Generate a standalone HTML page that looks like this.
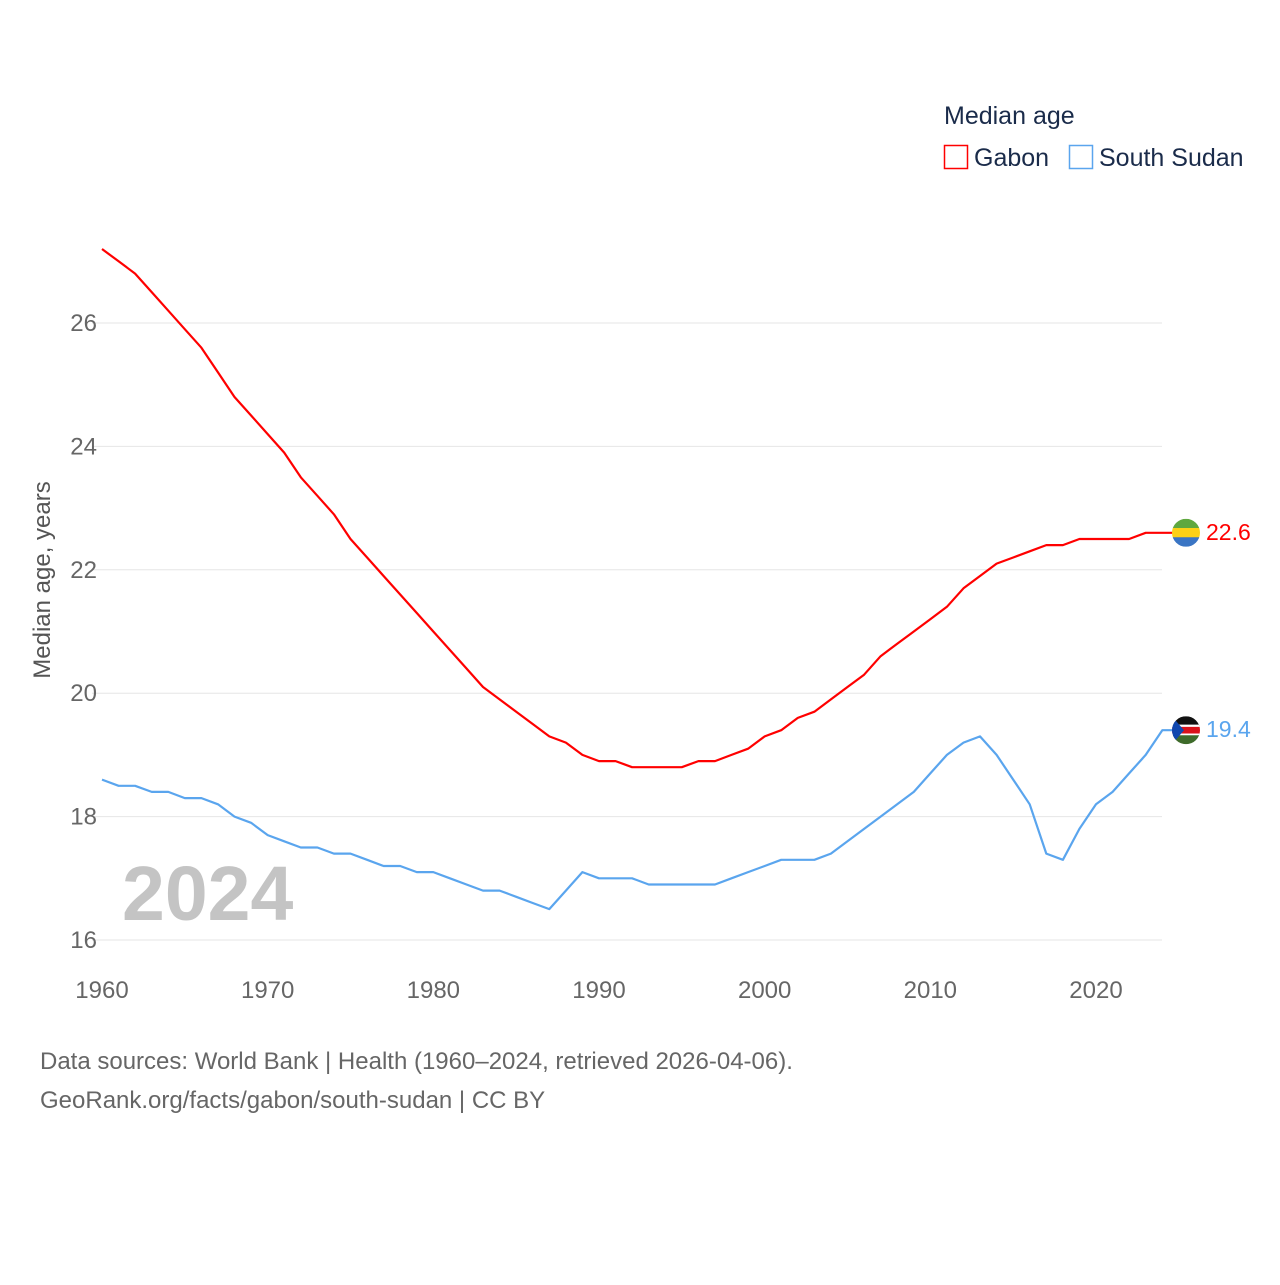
<!DOCTYPE html>
<html><head><meta charset="utf-8"><style>
body{margin:0;background:#fff;font-family:"Liberation Sans",sans-serif}
</style></head><body>
<svg width="1280" height="1280" xmlns="http://www.w3.org/2000/svg" font-family="Liberation Sans, sans-serif">
<g id="grid"></g>
<g id="yt" fill="#666" font-size="24" text-anchor="end"></g>
<g id="xt" fill="#666" font-size="24" text-anchor="middle"></g>
<text transform="translate(50,580) rotate(-90)" text-anchor="middle" font-size="24" fill="#555">Median age, years</text>
<text x="122" y="920" font-size="77" font-weight="bold" fill="#c4c4c4">2024</text>
<g id="lines"></g>
<g>
<text x="944" y="124" font-size="25" fill="#1a2b4a">Median age</text>
<rect x="944.5" y="145.5" width="23" height="23" fill="none" stroke="#ff0000" stroke-width="1.5"/>
<text x="974" y="166" font-size="25" fill="#1a2b4a">Gabon</text>
<rect x="1069.5" y="145.5" width="23" height="23" fill="none" stroke="#5aa5ee" stroke-width="1.5"/>
<text x="1099" y="166" font-size="25" fill="#1a2b4a">South Sudan</text>
</g>
<text x="40" y="1069" font-size="24" fill="#666">Data sources: World Bank | Health (1960–2024, retrieved 2026-04-06).</text>
<text x="40" y="1108" font-size="24" fill="#666">GeoRank.org/facts/gabon/south-sudan | CC BY</text>
</svg>
<script>
const years=[];for(let y=1960;y<=2024;y++)years.push(y);
const gabon=[27.2,27.0,26.8,26.5,26.2,25.9,25.6,25.2,24.8,24.5,24.2,23.9,23.5,23.2,22.9,22.5,22.2,21.9,21.6,21.3,21.0,20.7,20.4,20.1,19.9,19.7,19.5,19.3,19.2,19.0,18.9,18.9,18.8,18.8,18.8,18.8,18.9,18.9,19.0,19.1,19.3,19.4,19.6,19.7,19.9,20.1,20.3,20.6,20.8,21.0,21.2,21.4,21.7,21.9,22.1,22.2,22.3,22.4,22.4,22.5,22.5,22.5,22.5,22.6,22.6];
const ssudan=[18.6,18.5,18.5,18.4,18.4,18.3,18.3,18.2,18.0,17.9,17.7,17.6,17.5,17.5,17.4,17.4,17.3,17.2,17.2,17.1,17.1,17.0,16.9,16.8,16.8,16.7,16.6,16.5,16.8,17.1,17.0,17.0,17.0,16.9,16.9,16.9,16.9,16.9,17.0,17.1,17.2,17.3,17.3,17.3,17.4,17.6,17.8,18.0,18.2,18.4,18.7,19.0,19.2,19.3,19.0,18.6,18.2,17.4,17.3,17.8,18.2,18.4,18.7,19.0,19.4];
const yTicks=[16,18,20,22,24,26];
const xTicks=[1960,1970,1980,1990,2000,2010,2020];
const NS="http://www.w3.org/2000/svg";
const X=y=>102+(y-1960)*(1096-102)/60;
const Y=v=>940-(v-16)*61.7;
function mk(t,a,p){const e=document.createElementNS(NS,t);for(const k in a)e.setAttribute(k,a[k]);p.appendChild(e);return e;}
const grid=document.getElementById('grid'),yt=document.getElementById('yt'),xt=document.getElementById('xt'),lines=document.getElementById('lines');
yTicks.forEach(v=>{
 const l=mk('line',{x1:92,x2:1162,y1:Y(v),y2:Y(v),stroke:'#e6e6e6','stroke-width':1},grid);
 
 
 const t=mk('text',{x:97,y:Y(v)+8},yt);t.textContent=v;
 
 
});
xTicks.forEach(v=>{
 const t=mk('text',{x:X(v),y:998},xt);t.textContent=v;
 
 
});
function series(vals,color,name,flag){
 let d=vals.map((v,i)=>(i?'L':'M')+X(years[i]).toFixed(1)+','+Y(v).toFixed(1)).join(' ');
 const last=vals[vals.length-1];
 d+=' L1180,'+Y(last).toFixed(1);
 const p=mk('path',{d:d,fill:'none',stroke:color,'stroke-width':2.2,'stroke-linejoin':'round'},lines);
 
 
 const g=mk('g',{},lines);
 
 
 const cy=Y(last),cx=1186,r=14;
 const cp=mk('clipPath',{id:'c'+name},g);mk('circle',{cx:cx,cy:cy,r:r},cp);
 const inner=mk('g',{'clip-path':'url(#c'+name+')'},g);
 flag.forEach(s=>mk('rect',{x:cx-r,y:cy-r+s[0]*2*r,width:2*r,height:s[1]*2*r,fill:s[2]},inner));
 if(name==='south-sudan')mk('polygon',{points:(cx-r)+','+(cy-r)+' '+(cx-2)+','+cy+' '+(cx-r)+','+(cy+r),fill:'#0f47af'},inner);
 const t=mk('text',{x:1206,y:cy+7,'font-size':23,fill:color},lines);t.textContent=last.toFixed(1);
 
 
}
series(gabon,'#ff0000','gabon',[[0,0.34,'#5fa83f'],[0.33,0.34,'#fcd116'],[0.66,0.34,'#3a75c4']]);
series(ssudan,'#5aa5ee','south-sudan',[[0,0.36,'#111'],[0.3,0.08,'#fff'],[0.38,0.24,'#da121a'],[0.62,0.08,'#fff'],[0.68,0.32,'#3e6b2a']]);
</script>
</body></html>
